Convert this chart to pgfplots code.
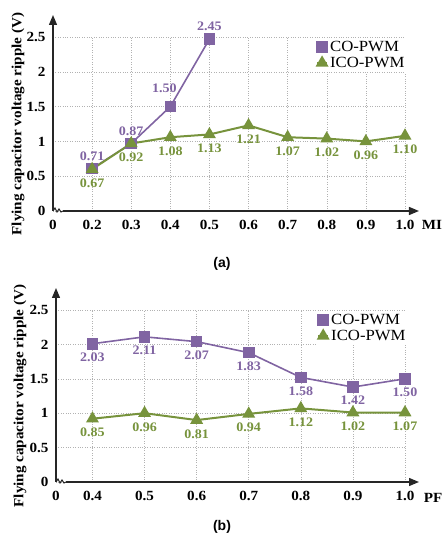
\documentclass[border=0pt]{standalone}
\usepackage{pgfplots}
\pgfplotsset{compat=1.18}
\usepackage{pgfplotstable}
\usetikzlibrary{arrows.meta}
\usepackage{fontspec}
\setmainfont{Liberation Serif}[FakeStretch=1.08]
\newfontfamily\arialfont{Liberation Sans}
\definecolor{copurple}{HTML}{8064A2}
\definecolor{icogreen}{HTML}{77933C}
\definecolor{axisgray}{HTML}{262626}

% (a) ripple vs MI
\pgfplotstableread{
x   y    lab  dx dy
0.2 0.61 0.71 0  0
0.3 0.97 0.87 0  0
0.4 1.50 1.50 -6 6
0.5 2.47 2.45 0  0
}\coA
\pgfplotstableread{
x   y    lab
0.2 0.60 0.67
0.3 0.97 0.92
0.4 1.06 1.08
0.5 1.10 1.13
0.6 1.23 1.21
0.7 1.06 1.07
0.8 1.04 1.02
0.9 1.00 0.96
1.0 1.08 1.10
}\icoA
% (b) ripple vs PF
\pgfplotstableread{
x   y    lab
0.4 2.01 2.03
0.5 2.11 2.11
0.6 2.04 2.07
0.7 1.88 1.83
0.8 1.52 1.58
0.9 1.38 1.42
1.0 1.50 1.50
}\coB
\pgfplotstableread{
x   y    lab
0.4 0.92 0.85
0.5 1.00 0.96
0.6 0.90 0.81
0.7 0.99 0.94
0.8 1.07 1.12
0.9 1.01 1.02
1.0 1.01 1.07
}\icoB

\pgfplotsset{
  ripple/.style={
    scale only axis, enlargelimits=false, clip=false,
    axis lines=left,
    axis line style={axisgray, line width=1.3pt},
    x axis line style={-{Triangle[length=10pt,width=8pt]}, shorten >=-14pt, shorten <=10pt},
    y axis line style={-{Triangle[length=10pt,width=8pt]}, shorten >=-22pt},
    major tick length=0pt,
    grid=major, grid style={dotted, black!30, line width=0.5pt},
    ymin=0, ymax=2.5,
    ytick={0,0.5,1,1.5,2,2.5},
    yticklabels={0,0.5,1,1.5,2,2.5},
    tick label style={font=\fontsize{14}{14}\selectfont\bfseries},
    xticklabel style={yshift=-6pt},
    yticklabel style={xshift=-4pt},
    ylabel={Flying capacitor voltage ripple (V)},
    ylabel style={font=\fontsize{14}{14}\selectfont\bfseries, anchor=center},
    legend style={draw=none, fill=white, font=\fontsize{15.5}{17}\selectfont,
      inner sep=1pt, row sep=0pt, cells={anchor=west}},
    legend image code/.code={\draw[mark repeat=2,mark phase=2,#1]
      plot coordinates {(0pt,0pt) (5pt,0pt) (10pt,0pt)};},
    nodes near coords, point meta=explicit symbolic,
  },
  co/.style={copurple, line width=1.6pt, mark=square*, mark size=5pt,
    every node near coord/.append style={font=\fontsize{13}{13}\selectfont\bfseries, copurple}},
  ico/.style={icogreen, line width=2pt, mark=triangle*, mark size=5.5pt,
    every node near coord/.append style={font=\fontsize{13}{13}\selectfont\bfseries, icogreen, anchor=north, yshift=-5pt}},
}

\begin{document}
\begin{tikzpicture}[x=1pt,y=1pt]
\path[use as bounding box] (0,0) rectangle (444,548);

\begin{axis}[ripple,
  at={(53pt,337pt)}, anchor=south west, width=352pt, height=174pt,
  xmin=0.1, xmax=1.0,
  xtick={0.1,0.2,0.3,0.4,0.5,0.6,0.7,0.8,0.9,1.0},
  xticklabels={0,0.2,0.3,0.4,0.5,0.6,0.7,0.8,0.9,1.0},
  ylabel style={at={(axis description cs:-0.099,0.5)}},
  legend style={at={(axis description cs:0.744,0.994)}, anchor=north west},
]
\addplot[co, visualization depends on={\thisrow{dx} \as \dx},
  visualization depends on={\thisrow{dy} \as \dy},
  every node near coord/.append style={anchor=south, xshift=\dx pt, yshift=\dy pt + 4pt}]
  table[x=x, y=y, meta=lab] {\coA};
\addplot[ico] table[x=x, y=y, meta=lab] {\icoA};
\legend{CO-PWM, ICO-PWM}
\end{axis}
\draw[axisgray, line width=1pt] (53,337) -- (55,340) -- (57,336) -- (59,339) -- (61,336) -- (63,337);
\node[font=\fontsize{14}{14}\selectfont\bfseries] at (432,323) {MI};
\node[font=\arialfont\fontsize{14}{14}\selectfont\bfseries] at (222,284) {(a)};

\begin{axis}[ripple,
  at={(56pt,66pt)}, anchor=south west, width=349pt, height=172pt,
  xmin=0.33, xmax=1.0,
  xtick={0.33,0.4,0.5,0.6,0.7,0.8,0.9,1.0},
  xticklabels={0,0.4,0.5,0.6,0.7,0.8,0.9,1.0},
  ylabel style={at={(axis description cs:-0.103,0.5)}},
  legend style={at={(axis description cs:0.745,0.994)}, anchor=north west},
]
\addplot[co, every node near coord/.append style={anchor=north, yshift=-5pt}]
  table[x=x, y=y, meta=lab] {\coB};
\addplot[ico] table[x=x, y=y, meta=lab] {\icoB};
\legend{CO-PWM, ICO-PWM}
\end{axis}
\draw[axisgray, line width=1pt] (56,66) -- (58,69) -- (60,65) -- (62,68) -- (64,65) -- (66,66);
\node[font=\fontsize{14}{14}\selectfont\bfseries] at (433,50) {PF};
\node[font=\arialfont\fontsize{14}{14}\selectfont\bfseries] at (222,21) {(b)};
\end{tikzpicture}
\end{document}
